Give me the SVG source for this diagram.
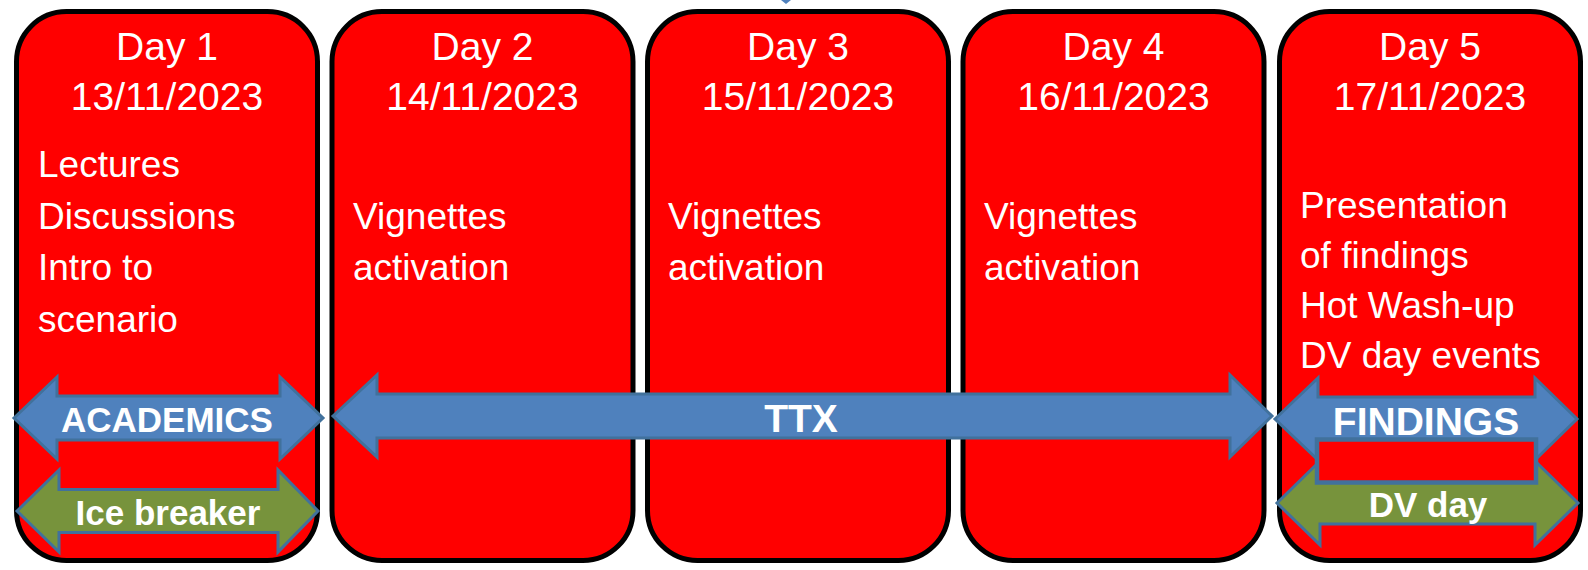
<svg xmlns="http://www.w3.org/2000/svg" width="1588" height="570" viewBox="0 0 1588 570">
<style>
.day{fill:#FF0000;stroke:#000000;stroke-width:5}
.t{font-family:"Liberation Sans",Arial,sans-serif;fill:#FFFFFF}
.title{font-size:39px;text-anchor:middle}
.body{font-size:37px}
.lbl{font-weight:bold;text-anchor:middle}
.blue{fill:#4F81BD;stroke:#41719C;stroke-width:3;stroke-linejoin:miter}
.green{fill:#77933C;stroke:#41719C;stroke-width:3;stroke-linejoin:miter}
</style>
<rect width="1588" height="570" fill="#FFFFFF"/>
<polygon points="781,0 791,0 786,4" fill="#4F81BD"/>
<g id="day1">
<rect class="day" x="16.5" y="11.5" width="301" height="549" rx="50" ry="50"/>
<text class="t title" x="167" y="60">Day 1</text>
<text class="t title" x="167" y="110">13/11/2023</text>
<text class="t body" x="38" y="177">Lectures</text>
<text class="t body" x="38" y="229">Discussions</text>
<text class="t body" x="38" y="280">Intro to</text>
<text class="t body" x="38" y="332">scenario</text>
</g>
<g id="day2">
<rect class="day" x="332" y="11.5" width="301" height="549" rx="50" ry="50"/>
<text class="t title" x="482.5" y="60">Day 2</text>
<text class="t title" x="482.5" y="110">14/11/2023</text>
<text class="t body" x="353" y="229">Vignettes</text>
<text class="t body" x="353" y="280">activation</text>
</g>
<g id="day3">
<rect class="day" x="647.5" y="11.5" width="301" height="549" rx="50" ry="50"/>
<text class="t title" x="798" y="60">Day 3</text>
<text class="t title" x="798" y="110">15/11/2023</text>
<text class="t body" x="668" y="229">Vignettes</text>
<text class="t body" x="668" y="280">activation</text>
</g>
<g id="day4">
<rect class="day" x="963" y="11.5" width="301" height="549" rx="50" ry="50"/>
<text class="t title" x="1113.5" y="60">Day 4</text>
<text class="t title" x="1113.5" y="110">16/11/2023</text>
<text class="t body" x="984" y="229">Vignettes</text>
<text class="t body" x="984" y="280">activation</text>
</g>
<g id="day5">
<rect class="day" x="1279.5" y="11.5" width="301" height="549" rx="50" ry="50"/>
<text class="t title" x="1430" y="60">Day 5</text>
<text class="t title" x="1430" y="110">17/11/2023</text>
<text class="t body" x="1300" y="218">Presentation</text>
<text class="t body" x="1300" y="268">of findings</text>
<text class="t body" x="1300" y="318">Hot Wash-up</text>
<text class="t body" x="1300" y="368">DV day events</text>
</g>
<g id="connectors">
<g id="academics">
<polygon class="blue" points="14,418 57,377 57,396 280,396 280,377 323,418 280,459 280,440 57,440 57,459"/>
<text class="t lbl" x="167" y="432" font-size="35">ACADEMICS</text>
</g>
<g id="icebreaker">
<polygon class="green" points="17,511 59,470 59,489.5 278,489.5 278,470 318,511 278,552 278,532.5 59,532.5 59,552"/>
<text class="t lbl" x="168" y="525" font-size="35">Ice breaker</text>
</g>
<g id="ttx">
<polygon class="blue" points="333,416 377,375 377,394 1230,394 1230,375 1272,416 1230,457 1230,438 377,438 377,457"/>
<text class="t lbl" x="801" y="432" font-size="39">TTX</text>
</g>
<g id="findings">
<polygon class="blue" points="1275,419 1318,378 1318,397 1535,397 1535,378 1577,419 1535,460 1535,441 1318,441 1318,460"/>
<text class="t lbl" x="1426" y="435" font-size="39">FINDINGS</text>
</g>
<g id="dvday">
<polygon class="green" points="1277,503 1320,461 1320,482 1535,482 1535,461 1578,503 1535,545 1535,524 1320,524 1320,545"/>
<text class="t lbl" x="1428" y="517" font-size="35">DV day</text>
</g>
<rect x="1317" y="439.5" width="219" height="43" fill="#FF0000" stroke="#41719C" stroke-width="4.5"/>
</g>
</svg>
